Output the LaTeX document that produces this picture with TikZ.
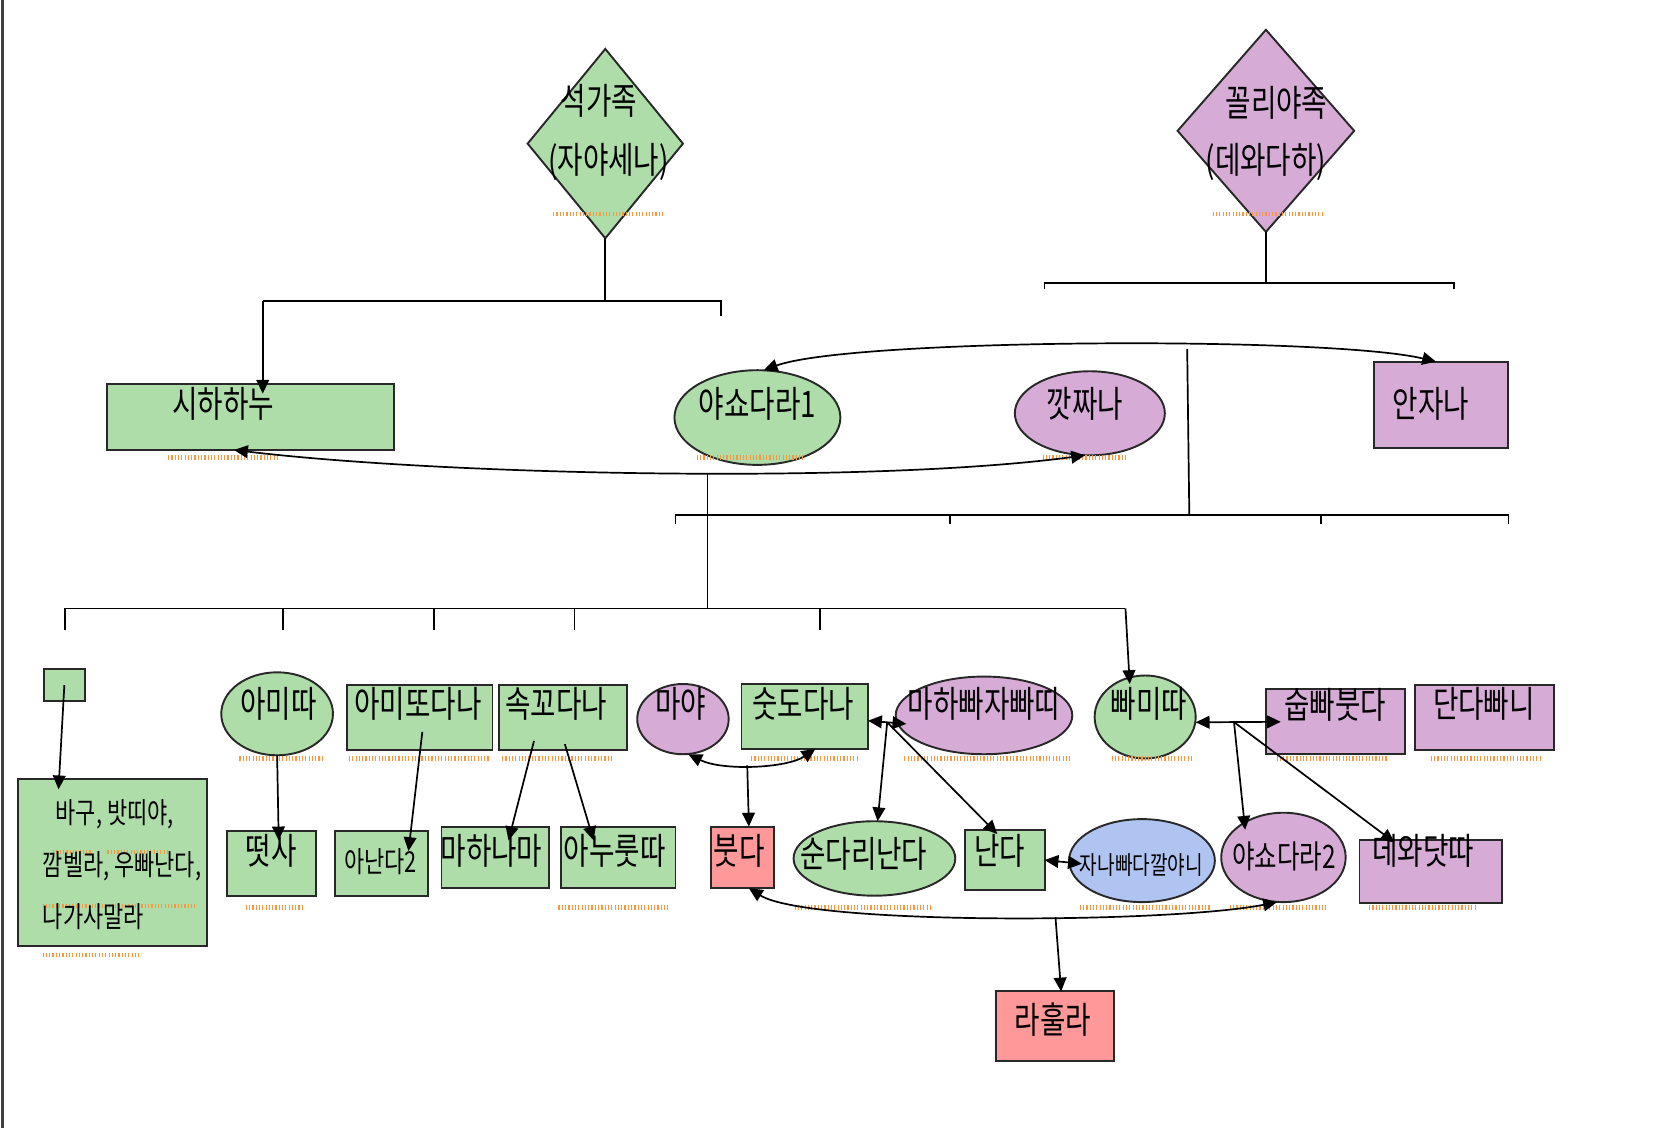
\documentclass[tikz,border=0pt]{standalone}
\usepackage{fontspec}
\setmainfont{Noto Sans CJK KR}
\usepackage{graphicx}
\usetikzlibrary{shapes.geometric,arrows.meta,calc}
\definecolor{gfill}{RGB}{175,221,170}
\definecolor{pfill}{RGB}{214,172,214}
\definecolor{rfill}{RGB}{255,153,153}
\definecolor{bfill}{RGB}{176,196,242}
\definecolor{sqc}{RGB}{250,150,60}
\definecolor{edgec}{RGB}{40,40,40}
\newcommand{\kt}[1]{\scalebox{1}[1.32]{#1}}
\begin{document}
\begin{tikzpicture}[x=0.5pt,y=-0.5pt,
  shp/.style={draw=edgec,line width=0.9pt,inner sep=0pt,outer sep=0pt},
  bx/.style={shp,rectangle},
  el/.style={shp,ellipse},
  gr/.style={fill=gfill}, pu/.style={fill=pfill}, rd/.style={fill=rfill}, bl/.style={fill=bfill},
  lbl/.style={inner sep=0pt,font=\fontsize{13}{15}\selectfont},
  mlbl/.style={inner sep=0pt,font=\fontsize{11.5}{14}\selectfont},
  slbl/.style={inner sep=0pt,font=\fontsize{10.3}{12}\selectfont},
  xslbl/.style={inner sep=0pt,font=\fontsize{9}{11}\selectfont},
  ln/.style={draw=black,line width=0.8pt},
  arr/.style={ln,-{Triangle[length=6.5pt,width=6pt]}},
  darr/.style={ln,{Triangle[length=6.5pt,width=6pt]}-{Triangle[length=6.5pt,width=6pt]}},
  squig/.style={draw=sqc,line width=2pt,dash pattern=on 0.55pt off 1pt},
]
\useasboundingbox (0,0) rectangle (1568,1060);
\fill[white] (0,0) rectangle (1568,1060);
\draw[line width=1.3pt,black!75] (2,0) -- (2,1060);

% ---------- shapes ----------
\node[shp,diamond,gr,minimum width=73pt,minimum height=89pt] (d1) at (569,135) {};
\node[shp,diamond,pu,minimum width=83pt,minimum height=95pt] (d2) at (1190,123) {};

\node[bx,gr,minimum width=134.5pt,minimum height=31pt] (sih) at (235.5,392) {};
\node[el,gr,minimum width=78pt,minimum height=44.5pt] (yas1) at (712,392.5) {};
\node[el,pu,minimum width=70.5pt,minimum height=39.5pt] (kat) at (1024.5,388.5) {};
\node[bx,pu,minimum width=63pt,minimum height=40.5pt] (anj) at (1355,380.5) {};

\node[bx,gr,minimum width=19.5pt,minimum height=15pt] (sq) at (60.5,644) {};
\node[el,gr,minimum width=52.5pt,minimum height=39pt] (ami) at (260.5,671) {};
\node[bx,gr,minimum width=68.5pt,minimum height=30.5pt] (amit) at (394.5,674.5) {};
\node[bx,gr,minimum width=60pt,minimum height=30.5pt] (sok) at (529,674.5) {};
\node[el,pu,minimum width=43pt,minimum height=33pt] (maya) at (642,676) {};
\node[bx,gr,minimum width=59.5pt,minimum height=30.5pt] (sud) at (756.5,673.5) {};
\node[el,pu,minimum width=83pt,minimum height=36.5pt] (mpj) at (925,672.5) {};
\node[el,gr,minimum width=47.5pt,minimum height=39pt] (pam) at (1076.5,674) {};
\node[bx,pu,minimum width=65.5pt,minimum height=30.5pt] (sup) at (1255.5,678.5) {};
\node[bx,pu,minimum width=65.5pt,minimum height=30.5pt] (dan) at (1395.5,674.5) {};

\node[bx,gr,minimum width=89pt,minimum height=78.5pt] (bagu) at (106,810.5) {};
\node[bx,gr,minimum width=42pt,minimum height=30.5pt] (tis) at (255,811.5) {};
\node[bx,gr,minimum width=43.5pt,minimum height=30.5pt] (anan) at (358.5,811.5) {};
\node[bx,gr,minimum width=50.5pt,minimum height=29pt] (mah) at (465.5,806) {};
\node[bx,gr,minimum width=54pt,minimum height=29pt] (anu) at (581,806) {};
\node[bx,rd,minimum width=30pt,minimum height=29pt] (bud) at (698,806) {};
\node[el,gr,minimum width=76pt,minimum height=35pt] (sun) at (822,807) {};
\node[bx,gr,minimum width=37.5pt,minimum height=28.5pt] (nan) at (944.5,808.5) {};
\node[el,bl,minimum width=68.5pt,minimum height=39pt] (jan) at (1073.5,809) {};
\node[el,pu,minimum width=58.5pt,minimum height=42pt] (yas2) at (1206.5,806) {};
\node[bx,pu,minimum width=67pt,minimum height=29.5pt] (dew) at (1345,819.5) {};
\node[bx,rd,minimum width=55.5pt,minimum height=32.5pt] (rah) at (991.5,964.5) {};

% ---------- spell-check squiggles ----------
\foreach \a/\b/\c in {520/623/201,1140/1243/201,158/262/430,655/755/430,980/1060/430,
  225/303/713,328/460/713,472/575/713,706/808/713,850/1007/713,1045/1122/713,1200/1304/713,1345/1448/713,
  231/284/853,525/630/853,747/877/853,1015/1137/853,1156/1246/853,1287/1388/853,
  50/87/801,101/157/801,40/185/852,40/133/898}
  \draw[squig] (\a,\c) -- (\b,\c);

% ---------- texts ----------
\node[lbl] (t-d1a) at (563,95) {\kt{석가족}};
\node[lbl] (t-d1b) at (572,152) {\kt{(자야세나)}};
\node[lbl] (t-d2a) at (1200,97) {\kt{꼴리야족}};
\node[lbl] (t-d2b) at (1190,152) {\kt{(데와다하)}};
\node[lbl] (t-sih) at (210,380) {\kt{시하하누}};
\node[lbl] (t-yas1) at (712,380) {\kt{야쇼다라1}};
\node[lbl] (t-kat) at (1020,380) {\kt{깟짜나}};
\node[lbl] (t-anj) at (1345,380) {\kt{안자나}};
\node[lbl] (t-ami) at (262,662) {\kt{아미따}};
\node[lbl] (t-amit) at (393,662) {\kt{아미또다나}};
\node[lbl] (t-sok) at (523,662) {\kt{속꼬다나}};
\node[lbl] (t-maya) at (640,662) {\kt{마야}};
\node[lbl] (t-sud) at (755,662) {\kt{숫도다나}};
\node[lbl] (t-mpj) at (925,662) {\kt{마하빠자빠띠}};
\node[lbl] (t-pam) at (1080,662) {\kt{빠미따}};
\node[lbl] (t-sup) at (1255,663) {\kt{숩빠붓다}};
\node[lbl] (t-dan) at (1395,662) {\kt{단다빠니}};
\node[slbl,anchor=west] (t-b1) at (52,765) {\kt{바구, 밧띠야,}};
\node[slbl,anchor=west] (t-b2) at (40,814) {\kt{깜벨라, 우빠난다,}};
\node[slbl,anchor=west] (t-b3) at (40,862) {\kt{나가사말라}};
\node[lbl] (t-tis) at (255,800) {\kt{떳사}};
\node[slbl] (t-anan) at (358,810) {\kt{아난다2}};
\node[lbl] (t-mah) at (462,800) {\kt{마하나마}};
\node[lbl] (t-anu) at (578,800) {\kt{아누룻따}};
\node[lbl] (t-bud) at (695,800) {\kt{붓다}};
\node[lbl] (t-sun) at (812,803) {\kt{순다리난다}};
\node[lbl] (t-nan) at (940,800) {\kt{난다}};
\node[xslbl] (t-jan) at (1073,813) {\kt{자나빠다깔야니}};
\node[mlbl] (t-yas2) at (1207,805) {\kt{야쇼다라2}};
\node[lbl] (t-dew) at (1338,800) {\kt{데와닷따}};
\node[lbl] (t-rah) at (990,958) {\kt{라훌라}};

% ---------- tree lines ----------
\coordinate (h1l) at (247,283);
\coordinate (h1r) at (678,283);
\draw[ln] (d1.south) -- (d1.south |- h1l);
\draw[ln] (h1l) -- (h1r) -- ++(0,14);
\draw[arr] (h1l) -- ($(sih.north -| h1l)+(0,9)$);

\coordinate (h2l) at (982,266);
\coordinate (h2r) at (1367,266);
\draw[ln] (d2.south) -- (d2.south |- h2l);
\draw[ln] ($(h2l)+(0,6)$) -- (h2l) -- (h2r) -- ++(0,6);

\coordinate (h3l) at (635,484);
\coordinate (h3r) at (1418,484);
\draw[ln] (1116,328) -- (1118,484);
\draw[ln] ($(h3l)+(0,9)$) -- (h3l) -- (h3r) -- ++(0,9);
\foreach \x in {893,1242} \draw[ln] (\x,484) -- (\x,493);

\coordinate (h4l) at (61,572);
\coordinate (h4r) at (1058,572);
\draw[ln] ($(h4l)+(0,20)$) -- (h4l) -- (h4r);
\foreach \x in {266,408,540,771} \draw[ln] (\x,572) -- (\x,592);
\draw[arr] (h4r) -- ($(pam.north)+(-14.5,8)$);

% ---------- curves ----------
\draw[darr] ([xshift=-7.75pt]sih.south) .. controls (420,447) and (820,455) .. ([xshift=-2.25pt]kat.south) coordinate[pos=0.55] (j0);
\draw[ln] (j0) -- (j0 |- h4l);
\draw[darr] ([xshift=3pt]yas1.north) .. controls (800,318) and (1250,316) .. ([xshift=-2.5pt]anj.north);

% ---------- row 3 to row 4 ----------
\draw[arr] (sq.center) -- ($(bagu.north)+(-51,10)$);
\draw[arr] (ami.south) -- ($(tis.north)+(7,9)$);
\draw[arr] ($(amit.center)+(2.5,13.5)$) -- ($(anan.north)+(25.5,19)$);
\draw[arr] ($(sok.center)+(-27,22)$) -- ($(mah.north)+(12.5,13)$);
\draw[arr] ($(sok.center)+(2,25)$) -- ($(anu.north)+(-23,13)$);

\draw[darr] ([xshift=2.5pt]maya.south) .. controls (680,725) and (740,722) .. ([xshift=5pt]sud.south) coordinate[pos=0.45] (j1);
\draw[arr] (j1) -- ([xshift=3pt]bud.north);

\draw[darr] ([yshift=-2pt]sud.east) -- ([xshift=5pt,yshift=-4pt]mpj.west) coordinate[pos=0.5] (j2);
\draw[arr] (j2) -- ([xshift=1.5pt]sun.north);
\draw[arr] (j2) -- ($(nan.north)+(-7,4)$);

\draw[darr] ([yshift=-2.5pt]pam.east) -- ([xshift=7pt]sup.west) coordinate[pos=0.45] (j3);
\draw[arr] (j3) -- ($(yas2.north)+(-36,16)$);
\draw[arr] (j3) -- ($(dew.north)+(-34,2)$);

\draw[darr] (nan.east) -- ([xshift=6pt,yshift=-1.5pt]jan.west);

\draw[darr] ([xshift=3pt]bud.south) .. controls (760,870) and (1100,868) .. ([xshift=-3pt]yas2.south) coordinate[pos=0.59] (j4);
\draw[arr] (j4) -- ([xshift=3pt]rah.north);
\end{tikzpicture}
\end{document}
